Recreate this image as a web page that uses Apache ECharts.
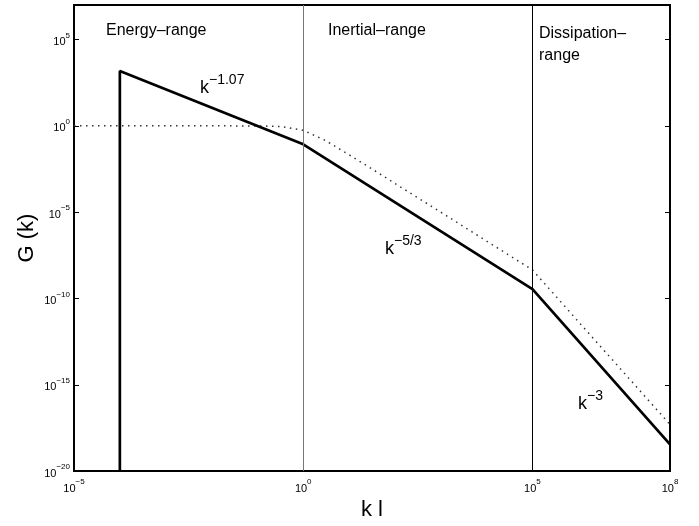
<!DOCTYPE html>
<html>
<head>
<meta charset="utf-8">
<script src="https://cdn.jsdelivr.net/npm/echarts@6/dist/echarts.min.js"></script>
<style>
  html, body { margin: 0; padding: 0; background: #fff; }
  #chart { width: 699px; height: 526px; }
</style>
</head>
<body>
<div id="chart"></div>
<script>
// model spectrum (solid) : k^-1.07, k^-5/3, k^-3
var solidK = [1e-4, 1e-4, 1, 1e5, 1e8];
var solidG = [1e-20, 1.5e3, 8.5e-2, 3.5e-10, 3.5e-19];

// reference spectrum (dotted)
var dotK = [1e-5, 1e-4, 1e-3, 1e-2, 1e-1, 0.316, 1, 3.16, 10, 31.6, 100, 1e3, 1e4, 1e5, 1e6, 1e7, 1e8];
var dotG = [1, 1, 1, 1, 0.99, 0.92, 0.56, 0.135, 0.021, 3.2e-3, 4.6e-4, 1e-5, 2.1e-7, 4.5e-9, 4.6e-12, 4.8e-15, 5e-18];

// range borders
var rangeEdges = [1, 1e5];

var FONT = "'Liberation Sans', Arial, sans-serif";

function pairs(xs, ys) {
  return xs.map(function (x, i) { return [x, ys[i]]; });
}

function powLabel(value) {
  var e = Math.round(Math.log10(value));
  var s = e < 0 ? "\u2212" + (-e) : String(e);
  return "{b|10}{e|" + s + "}";
}

var tickRich = {
  b: { fontSize: 11, lineHeight: 16, verticalAlign: "bottom", fontFamily: FONT, color: "#000" },
  e: { fontSize: 8, lineHeight: 8, verticalAlign: "top", fontFamily: FONT, color: "#000" },
};

// k^p annotation with a raised exponent
function powerText(left, top, exp) {
  return {
    type: "text", left: left, top: top,
    style: {
      text: "{k|k}{s|" + exp + "}",
      rich: {
        k: { fontSize: 18, lineHeight: 24, verticalAlign: "bottom", fontFamily: FONT, fill: "#000" },
        s: { fontSize: 14, lineHeight: 14, verticalAlign: "top", fontFamily: FONT, fill: "#000" },
      },
    },
  };
}

var chart = echarts.init(document.getElementById("chart"));

var option = {
  animation: false,
  backgroundColor: "#fff",
  grid: {
    left: 74, right: 29, top: 5, bottom: 51,
    show: true, borderColor: "#000", borderWidth: 1.8,
  },
  xAxis: {
    type: "log", logBase: 10, min: 1e-5, max: 1e8, interval: 5,
    name: "k l", nameLocation: "middle", nameGap: 26,
    nameTextStyle: { fontSize: 22, fontFamily: FONT, color: "#000" },
    axisLine: { lineStyle: { color: "#000", width: 1.8 } },
    axisTick: { show: false },
    minorTick: { show: false },
    splitLine: { show: false },
    axisLabel: {
      margin: 7, formatter: powLabel, rich: tickRich,
      showMinLabel: true, showMaxLabel: true,
    },
  },
  yAxis: [
    {
      type: "log", logBase: 10, min: 1e-20, max: 1e7, interval: 5,
      name: "G (k)", nameLocation: "middle", nameGap: 36, nameRotate: 90,
      nameMoveOverlap: false,
      nameTextStyle: { fontSize: 22, fontFamily: FONT, color: "#000" },
      axisLine: { lineStyle: { color: "#000", width: 1.8 } },
      axisTick: { inside: true, length: 5, lineStyle: { color: "#000" } },
      splitLine: { show: false },
      axisLabel: {
        margin: 4,
        formatter: function (v) {
          if (Math.round(Math.log10(v)) > 5) return "";
          return powLabel(v);
        },
        rich: tickRich,
      },
    },
    {
      type: "log", logBase: 10, min: 1e-20, max: 1e7, interval: 5,
      position: "right",
      axisLine: { lineStyle: { color: "#000", width: 1.8 } },
      axisTick: { inside: true, length: 5, lineStyle: { color: "#000" } },
      splitLine: { show: false },
      axisLabel: { show: false },
    },
  ],
  series: [
    {
      name: "dotted",
      type: "line",
      symbol: "none",
      data: pairs(dotK, dotG),
      lineStyle: { color: "#333", width: 1.5, type: [1.5, 4.5] },
    },
    {
      name: "model",
      type: "line",
      symbol: "none",
      data: pairs(solidK, solidG),
      lineStyle: { color: "#000", width: 2.7 },
      markLine: {
        silent: true,
        symbol: "none",
        label: { show: false },
        data: [
          { xAxis: rangeEdges[0], lineStyle: { color: "#777", width: 1, type: "solid" } },
          { xAxis: rangeEdges[1], lineStyle: { color: "#000", width: 1, type: "solid" } },
        ],
      },
    },
  ],
  graphic: [
    { type: "text", left: 106, top: 23, style: { text: "Energy\u2013range", font: "16px " + FONT, fill: "#000" } },
    { type: "text", left: 328, top: 23, style: { text: "Inertial\u2013range", font: "16px " + FONT, fill: "#000" } },
    { type: "text", left: 539, top: 23, style: { text: "Dissipation\u2013\nrange", font: "16px " + FONT, lineHeight: 22, fill: "#000" } },
    powerText(200, 73, "\u22121.07"),
    powerText(385, 234, "\u22125/3"),
    powerText(578, 389, "\u22123"),
  ],
};

chart.setOption(option);
</script>
</body>
</html>
